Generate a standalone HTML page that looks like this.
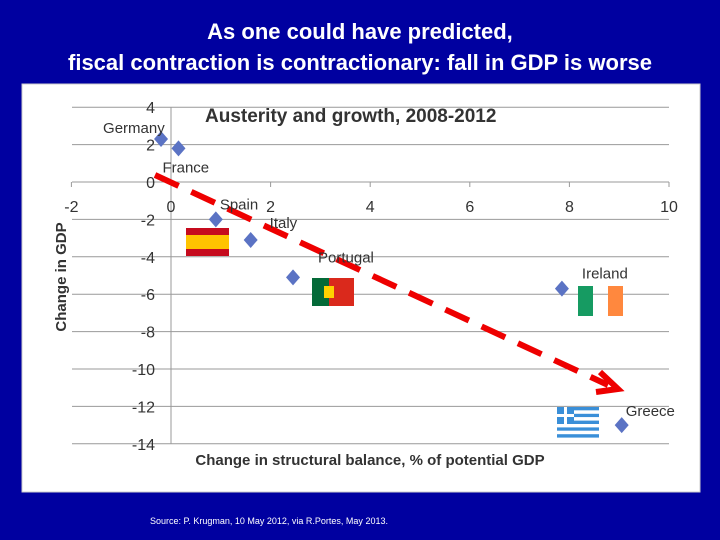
<!DOCTYPE html>
<html><head><meta charset="utf-8"><style>
html,body{margin:0;padding:0}
body{width:720px;height:540px;background:#0000a0;position:relative;overflow:hidden;font-family:"Liberation Sans",sans-serif}
.t{position:absolute;left:0;width:720px;text-align:center;color:#fff;font-weight:bold;font-size:22px}
</style></head><body>
<div class="t" style="top:19px">As one could have predicted,</div>
<div class="t" style="top:50px">fiscal contraction is contractionary: fall in GDP is worse</div>
<svg width="720" height="540" style="position:absolute;left:0;top:0">
<rect x="22" y="84" width="678" height="408" fill="#fff" stroke="#ccc"/>
<g id="grid"></g>
<g id="marks"></g>
</svg>
<div style="position:absolute;left:150px;top:516px;color:#fff;font-size:9px">Source: P. Krugman, 10 May 2012, via R.Portes, May 2013.</div>
<script>
const xTicks=[-2,0,2,4,6,8,10];
const yTicks=[4,2,0,-2,-4,-6,-8,-10,-12,-14];
const countries=["Germany","France","Spain","Italy","Portugal","Ireland","Greece"];
const xVals=[-0.2,0.15,0.9,1.6,2.45,7.85,9.05];
const yVals=[2.3,1.8,-2.0,-3.1,-5.1,-5.7,-13.0];
const X=v=>171+(v)*49.8, Y=v=>182-v*18.7;
const NS="http://www.w3.org/2000/svg";
function mk(p,t,a){const e=document.createElementNS(NS,t);for(const k in a)e.setAttribute(k,a[k]);p.appendChild(e);return e;}
const g=document.getElementById('grid'), m=document.getElementById('marks');
const svg=document.querySelector('svg');
yTicks.forEach(v=>{
 const l=mk(g,'line',{x1:72,x2:669,y1:Y(v),y2:Y(v),stroke:'#999','stroke-width':1});
 
 
 const t=mk(g,'text',{x:155,y:Y(v)+6,'text-anchor':'end','font-size':16,fill:'#333','font-family':'Liberation Sans,sans-serif'});
 t.textContent=v;
 
 
});
mk(g,'line',{x1:X(0),x2:X(0),y1:Y(4),y2:Y(-14),stroke:'#999'});
xTicks.forEach(v=>{
 const l=mk(g,'line',{x1:X(v),x2:X(v),y1:Y(0),y2:Y(0)+5,stroke:'#999'});
 
 
 const t=mk(g,'text',{x:X(v),y:Y(0)+30,'text-anchor':'middle','font-size':16,fill:'#333','font-family':'Liberation Sans,sans-serif'});
 t.textContent=v;
 
 
});
let ct=mk(g,'text',{x:205,y:122,'font-size':19,'font-weight':'bold',fill:'#333','font-family':'Liberation Sans,sans-serif'});
ct.textContent='Austerity and growth, 2008-2012';


let xt=mk(g,'text',{x:370,y:465,'text-anchor':'middle','font-size':15,'font-weight':'bold',fill:'#333','font-family':'Liberation Sans,sans-serif'});
xt.textContent='Change in structural balance, % of potential GDP';


let yt=mk(g,'text',{x:0,y:0,'text-anchor':'middle','font-size':15,'font-weight':'bold',fill:'#333',transform:'translate(66,277) rotate(-90)','font-family':'Liberation Sans,sans-serif'});
yt.textContent='Change in GDP';


// flags
function flag(name,x,y,w,h,parts){const gg=mk(m,'g',{});parts.forEach(p=>mk(gg,'rect',Object.assign({},p)));}
flag('spain-flag',186,228,43,28,[{x:186,y:228,width:43,height:28,fill:'#c60b1e'},{x:186,y:235,width:43,height:14,fill:'#ffc400'}]);
flag('portugal-flag',312,278,42,28,[{x:312,y:278,width:42,height:28,fill:'#da291c'},{x:312,y:278,width:17,height:28,fill:'#046a38'},{x:324,y:286,width:10,height:12,fill:'#ffd100'}]);
flag('ireland-flag',578,286,45,30,[{x:578,y:286,width:15,height:30,fill:'#169b62'},{x:608,y:286,width:15,height:30,fill:'#ff883e'}]);
const gr=[];for(let i=0;i<9;i++)gr.push({x:557,y:407+i*3.4,width:42,height:3.4,fill:i%2?'#fff':'#3a8fd8'});
gr.push({x:557,y:407,width:17,height:17,fill:'#3a8fd8'},{x:557,y:414,width:17,height:3,fill:'#fff'},{x:564,y:407,width:3,height:17,fill:'#fff'});
flag('greece-flag',557,407,42,30,gr);
// trend arrow
const tr=mk(m,'line',{x1:155,y1:175,x2:608,y2:385,stroke:'#e00',width:1,'stroke-width':6,'stroke-dasharray':'26,14'});


const ah=mk(m,'polyline',{points:'600,372 618,389 596,392',fill:'none',stroke:'#e00','stroke-width':6});


const lblOff={Germany:[-58,-6],France:[-16,24],Spain:[4,-10],Italy:[19,-12],Portugal:[25,-15],Ireland:[20,-10],Greece:[4,-9]};
countries.forEach((c,i)=>{
 const cx=X(xVals[i]),cy=Y(yVals[i]);
 const p=mk(m,'polygon',{points:`${cx},${cy-8} ${cx+7},${cy} ${cx},${cy+8} ${cx-7},${cy}`,fill:'#5b73c4'});
 
 
 const o=lblOff[c];
 const t=mk(m,'text',{x:cx+o[0],y:cy+o[1],'font-size':15,fill:'#333','font-family':'Liberation Sans,sans-serif'});
 t.textContent=c;
 
 
});
</script>
</body></html>
